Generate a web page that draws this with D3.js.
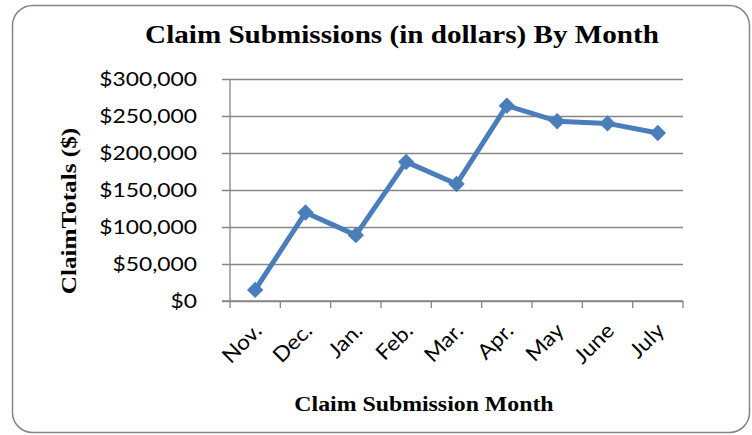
<!DOCTYPE html>
<html>
<head>
<meta charset="utf-8">
<script src="https://cdn.jsdelivr.net/npm/d3@7"></script>
<style>
  body { margin: 0; background: #fff; }
  svg { display: block; }
</style>
</head>
<body>
<svg width="752" height="435"></svg>
<script>
// data
const months = ['Nov.', 'Dec.', 'Jan.', 'Feb.', 'Mar.', 'Apr.', 'May', 'June', 'July'];
const claimTotals = [15000, 119500, 89000, 188000, 158000, 264000, 243000, 240000, 227000];
const yTicks = [0, 50000, 100000, 150000, 200000, 250000, 300000];

const svg = d3.select('svg');
const width = +svg.attr('width');
const height = +svg.attr('height');

const title = 'Claim Submissions (in dollars) By Month';
const xAxisLabel = 'Claim Submission Month';
const yAxisLabel = 'ClaimTotals ($)';

const margin = {top: 79, right: 69, bottom: 134, left: 230};
const innerWidth = width - margin.left - margin.right;
const innerHeight = height - margin.top - margin.bottom;

const sansFont = 'Lato, "Open Sans", sans-serif';
const serifFont = '"Liberation Serif", "Times New Roman", serif';

const data = months.map((m, i) => ({month: m, total: claimTotals[i]}));

// the original picture is a bit wider than tall, so stretch text glyphs a little
const stretch = (sel, k) => sel.each(function() {
    const w = this.getComputedTextLength();
    d3.select(this)
        .attr('textLength', w * k)
        .attr('lengthAdjust', 'spacingAndGlyphs');
});

// outer frame
svg.append('rect')
    .attr('x', 12.5).attr('y', 5.5)
    .attr('width', 737).attr('height', 427)
    .attr('rx', 20).attr('ry', 20)
    .attr('fill', 'none')
    .attr('stroke', '#868686')
    .attr('stroke-width', 1.5);

const xScale = d3.scaleBand()
    .domain(months)
    .range([0, innerWidth]);

const yScale = d3.scaleLinear()
    .domain([0, 300000])
    .range([innerHeight, 0]);

const g = svg.append('g')
    .attr('transform', `translate(${margin.left},${margin.top})`);

// y axis: gridlines + outward ticks
const yAxis = d3.axisLeft(yScale)
    .tickValues(yTicks)
    .tickSize(0)
    .tickFormat('');
const yAxisG = g.append('g').call(yAxis);
yAxisG.select('.domain').remove();
yAxisG.selectAll('.tick text').remove();
yAxisG.selectAll('.tick').append('line')
    .attr('x1', -8).attr('x2', innerWidth)
    .attr('stroke', '#868686')
    .attr('stroke-width', 1.3);

g.append('line')
    .attr('x1', 0).attr('x2', 0)
    .attr('y1', 0).attr('y2', innerHeight)
    .attr('stroke', '#868686')
    .attr('stroke-width', 1.3);

// x axis
const xAxisG = g.append('g')
    .attr('transform', `translate(0,${innerHeight})`);

xAxisG.append('line')
    .attr('x1', -8).attr('x2', innerWidth)
    .attr('stroke', '#868686')
    .attr('stroke-width', 1.3);

// tick marks sit on the category boundaries
xAxisG.selectAll('.bound').data(d3.range(months.length + 1))
    .enter().append('line')
    .attr('class', 'bound')
    .attr('x1', i => i * xScale.step())
    .attr('x2', i => i * xScale.step())
    .attr('y1', 0).attr('y2', 7)
    .attr('stroke', '#868686')
    .attr('stroke-width', 1.3);

// line
const xPos = d => xScale(d.month) + xScale.bandwidth() / 2;
const line = d3.line()
    .x(xPos)
    .y(d => yScale(d.total));

g.append('path')
    .datum(data)
    .attr('d', line)
    .attr('fill', 'none')
    .attr('stroke', '#4a7ebb')
    .attr('stroke-width', 5)
    .attr('stroke-linejoin', 'round');

// diamond markers
const diamond = d3.symbol().type(d3.symbolSquare).size(135);
g.selectAll('.marker').data(data)
    .enter().append('path')
    .attr('class', 'marker')
    .attr('d', diamond)
    .attr('transform', d => `translate(${xPos(d)},${yScale(d.total)}) rotate(45)`)
    .attr('fill', '#4a7ebb');

// text layer on top
const labels = svg.append('g').attr('class', 'labels');

labels.selectAll('.ylabel').data(yTicks)
    .enter().append('text')
    .attr('class', 'ylabel')
    .attr('x', margin.left - 33)
    .attr('y', d => margin.top + yScale(d) + 7)
    .attr('text-anchor', 'end')
    .attr('font-family', sansFont)
    .attr('font-size', 19)
    .attr('fill', '#000')
    .text(d => '$' + d3.format(',')(d))
    .call(stretch, 1.2);

labels.selectAll('.mlabel').data(months)
    .enter().append('text')
    .attr('class', 'mlabel')
    .attr('transform', d => `translate(${margin.left + xPos({month: d}) + 8},${margin.top + innerHeight + 31}) rotate(-45)`)
    .attr('text-anchor', 'end')
    .attr('font-family', sansFont)
    .attr('font-size', 21)
    .attr('fill', '#000')
    .text(d => d)
    .call(stretch, 1.08);

labels.append('text')
    .attr('x', 402).attr('y', 43)
    .attr('text-anchor', 'middle')
    .attr('font-family', serifFont)
    .attr('font-weight', 'bold')
    .attr('font-size', 26)
    .attr('fill', '#000')
    .text(title)
    .call(stretch, 1.12);

labels.append('text')
    .attr('x', 424).attr('y', 411)
    .attr('text-anchor', 'middle')
    .attr('font-family', serifFont)
    .attr('font-weight', 'bold')
    .attr('font-size', 20)
    .attr('fill', '#000')
    .text(xAxisLabel)
    .call(stretch, 1.19);

labels.append('text')
    .attr('transform', 'translate(76,211) rotate(-90)')
    .attr('text-anchor', 'middle')
    .attr('font-family', serifFont)
    .attr('font-weight', 'bold')
    .attr('font-size', 21)
    .attr('fill', '#000')
    .text(yAxisLabel)
    .call(stretch, 1.2);
</script>
</body>
</html>
